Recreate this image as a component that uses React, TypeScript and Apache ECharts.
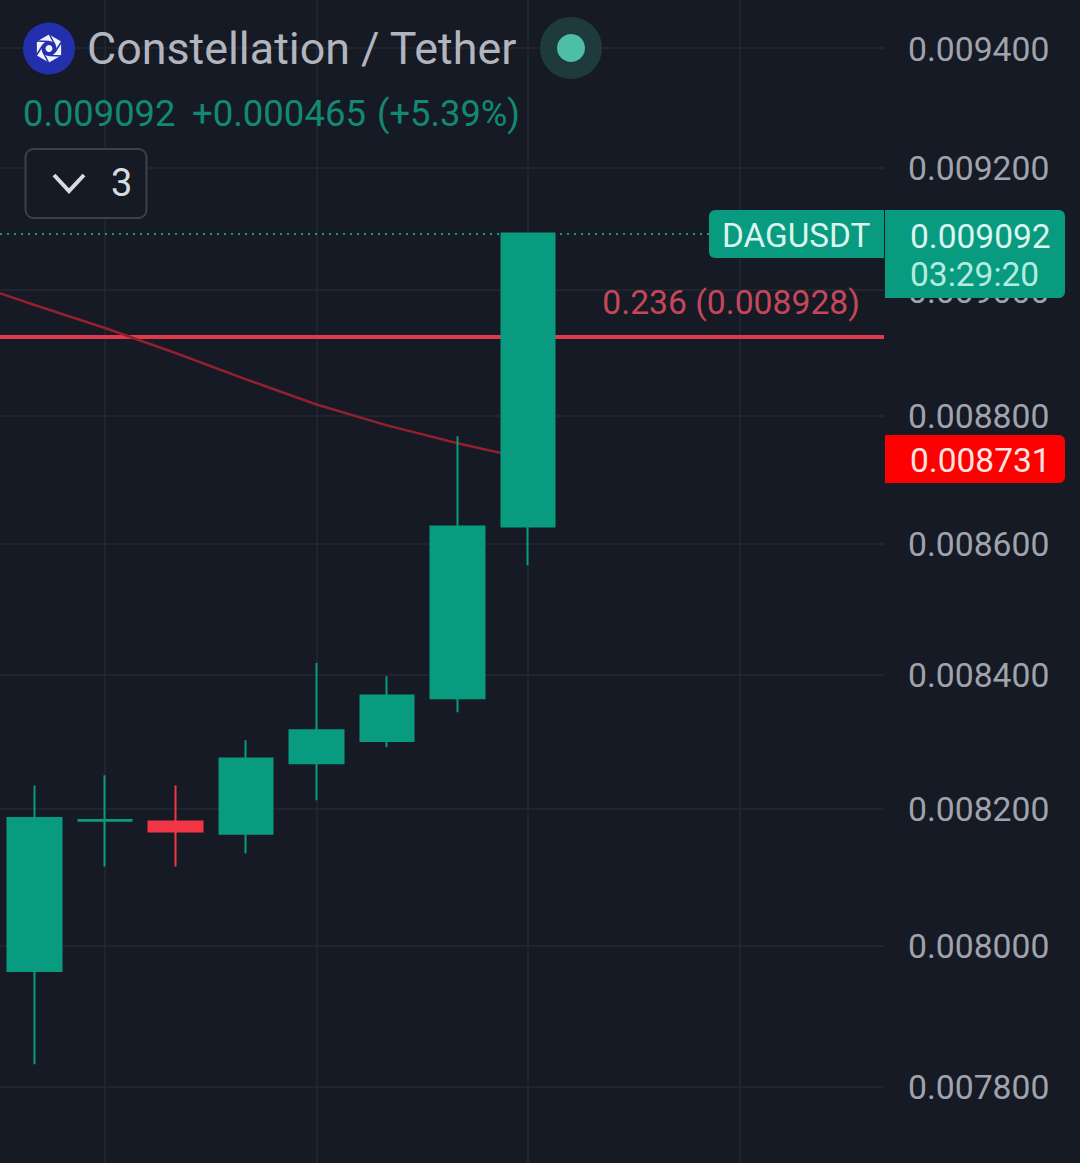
import React, { useEffect, useRef } from "react";
import * as echarts from "echarts";

const BG = "#161a25";
const UP = "#089b80";
const DOWN = "#f23645";
const GRID = "#242832";
const FONT = "Roboto, sans-serif";
const X_MIN = -34.5 / 70.5;
const X_MAX = 849.5 / 70.5;

const slots = [0, 1, 2, 3, 4, 5, 6, 7];
const opens = [0.007964, 0.008182, 0.008181, 0.008163, 0.008267, 0.0083, 0.008364, 0.008626];
const closes = [0.008186, 0.008183, 0.008166, 0.008274, 0.008316, 0.008368, 0.008626, 0.009092];
const lows = [0.007832, 0.008115, 0.008115, 0.008134, 0.008212, 0.008291, 0.008343, 0.008566];
const highs = [0.008234, 0.008249, 0.008234, 0.008301, 0.008417, 0.008397, 0.008767, 0.009092];

const maSlots = [-1, 0, 1, 2, 3, 4, 5, 6, 7];
const maValues = [0.009015, 0.008976, 0.008939, 0.008899, 0.008857, 0.008817, 0.008784, 0.008756, 0.008731];

const priceTicks = [0.0094, 0.0092, 0.009, 0.0088, 0.0086, 0.0084, 0.0082, 0.008, 0.0078];
const timeTicks = [1, 4, 7, 10];
const lastPrice = 0.009092;
const fibLevel = 0.008925;

const hline = (v: number, lineStyle: any, label: any) => [
  { coord: [X_MIN, v], lineStyle, label },
  { coord: [X_MAX, v] },
];

const LOGO_X = 49;
const LOGO_Y = 48.5;
const polar = (r: number, deg: number) => [
  LOGO_X + r * Math.cos((deg * Math.PI) / 180),
  LOGO_Y + r * Math.sin((deg * Math.PI) / 180),
];
const hexAngles = [-90, -30, 30, 90, 150, 210];

export default function App() {
  const ref = useRef<HTMLDivElement>(null);
  useEffect(() => {
    document.body.style.margin = "0";
    document.body.style.background = BG;
    const chart = echarts.init(ref.current!, undefined, { renderer: "svg" });
    const txt = (x: number, y: number, text: string, fill: string, fontSize: number, align = "left", extra: any = {}) => ({
      type: "text",
      z: 102,
      x,
      y,
      style: { text, fill, fontSize, fontFamily: FONT, align, verticalAlign: "middle", ...extra },
    });
    chart.setOption({
      animation: false,
      backgroundColor: BG,
      grid: { left: 0, top: 0, width: 884, height: 1163, containLabel: false },
      xAxis: { type: "value", min: X_MIN, max: X_MAX, show: false, splitLine: { show: false } },
      yAxis: { type: "log", min: 0.0076942, max: 0.0094814, show: false, splitLine: { show: false } },
      series: [
        {
          name: "levels",
          type: "line",
          z: 1,
          data: [],
          symbol: "none",
          markLine: {
            z: 1,
            silent: true,
            symbol: "none",
            animation: false,
            data: [
              ...priceTicks.map((v) =>
                hline(v, { color: GRID, width: 1.5, type: "solid" }, {
                  show: true,
                  position: "end",
                  distance: 24,
                  offset: [0, 1],
                  color: "#a0a3ac",
                  fontSize: 33.7,
                  fontFamily: FONT,
                  formatter: () => v.toFixed(6),
                })
              ),
              ...timeTicks.map((v) => ({
                xAxis: v,
                lineStyle: { color: GRID, width: 1.5, type: "solid" },
                label: { show: false },
              })),
              hline(lastPrice, { color: "#2f8f7e", width: 2, type: [2, 5] }, { show: false }),
              hline(fibLevel, { color: "#e0394b", width: 4, type: "solid" }, { show: false }),
            ],
          },
        },
        {
          name: "MA",
          type: "line",
          z: 2,
          symbol: "none",
          smooth: false,
          lineStyle: { color: "#93202f", width: 2.5 },
          data: maSlots.map((s, i) => [s, maValues[i]]),
        },
        {
          name: "DAGUSDT",
          type: "candlestick",
          z: 3,
          barWidth: 54,
          encode: { x: 0, y: [1, 2, 3, 4] },
          itemStyle: { color: UP, color0: DOWN, borderColor: UP, borderColor0: DOWN, borderWidth: 2 },
          data: slots.map((s, i) => [s, opens[i], closes[i], lows[i], highs[i]]),
        },
      ],
      graphic: [
        { type: "circle", z: 100, shape: { cx: LOGO_X, cy: LOGO_Y, r: 26 }, style: { fill: "#2230ad" } },
        {
          type: "polygon",
          z: 101,
          shape: { points: hexAngles.map((a) => polar(14, a)) },
          style: { fill: "#f2f3fa" },
        },
        ...hexAngles.map((a) => ({
          type: "line",
          z: 102,
          shape: {
            x1: polar(7, a + 60)[0],
            y1: polar(7, a + 60)[1],
            x2: polar(15, a)[0],
            y2: polar(15, a)[1],
          },
          style: { stroke: "#2230ad", lineWidth: 1.5 },
        })),
        { type: "circle", z: 103, shape: { cx: LOGO_X, cy: LOGO_Y, r: 7.5 }, style: { fill: "#2230ad" } },
        { type: "circle", z: 104, shape: { cx: LOGO_X, cy: LOGO_Y, r: 3.5 }, style: { fill: "#f2f3fa" } },
        txt(87, 48, "Constellation / Tether", "#b2b5be", 44.8),
        { type: "circle", z: 100, shape: { cx: 571, cy: 48, r: 31 }, style: { fill: "#1e3a3c" } },
        { type: "circle", z: 101, shape: { cx: 571, cy: 48, r: 14 }, style: { fill: "#4ebfa6" } },
        txt(23, 113, "0.009092", "#128a73", 36.3),
        txt(192, 113, "+0.000465", "#128a73", 36.5),
        txt(377, 113, "(+5.39%)", "#128a73", 36.3),
        {
          type: "rect",
          z: 100,
          shape: { x: 25.5, y: 149, width: 121, height: 69, r: 8 },
          style: { fill: BG, stroke: "#3c404a", lineWidth: 2 },
        },
        {
          type: "polyline",
          z: 101,
          shape: { points: [[54, 175], [69, 191], [84, 175]] },
          style: { stroke: "#d8dae0", lineWidth: 4, fill: "none" },
        },
        txt(111, 183, "3", "#d8dae0", 38),
        txt(860, 302, "0.236 (0.008928)", "#c4485a", 33.7, "right"),
        {
          type: "rect",
          z: 100,
          shape: { x: 709, y: 210, width: 175, height: 48, r: [6, 0, 0, 6] },
          style: { fill: UP },
        },
        txt(722, 235, "DAGUSDT", "#dcf5ef", 33.3),
        {
          type: "rect",
          z: 100,
          shape: { x: 885, y: 210, width: 180, height: 88, r: [0, 6, 6, 0] },
          style: { fill: UP },
        },
        txt(910, 236, "0.009092", "#dcf5ef", 33.5),
        txt(910, 274, "03:29:20", "#b5ece0", 33.5),
        {
          type: "rect",
          z: 100,
          shape: { x: 885, y: 435, width: 180, height: 48, r: [0, 6, 6, 0] },
          style: { fill: "#ff0000" },
        },
        txt(910, 460, "0.008731", "#ffe3e3", 33.5),
      ],
    });
    return () => chart.dispose();
  }, []);
  return <div ref={ref} style={{ width: 1080, height: 1163 }} />;
}
